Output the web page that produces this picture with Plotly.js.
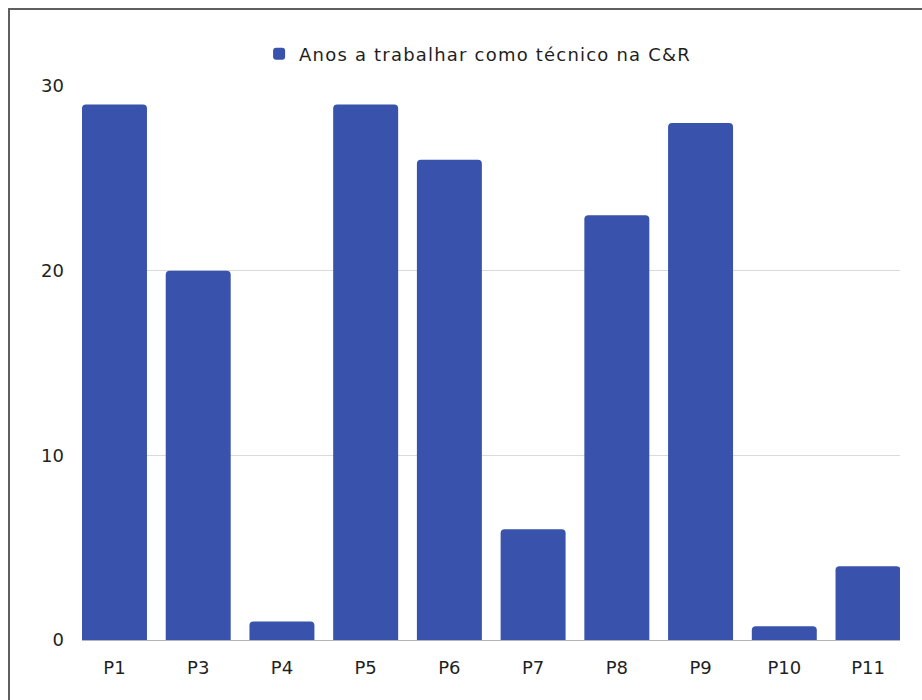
<!DOCTYPE html>
<html>
<head>
<meta charset="utf-8">
<script src="https://cdn.plot.ly/plotly-3.0.1.min.js"></script>
<style>
  html, body { margin: 0; padding: 0; background: #fff; overflow: hidden; }
  #chart { width: 922px; height: 700px; }
  #frame { position: absolute; left: 8px; top: 8px; width: 1000px; height: 1000px;
           border-left: 2px solid #5f5f5f; border-top: 2px solid #5f5f5f; pointer-events: none; }
  .legendtext { letter-spacing: 1.2px; }
</style>
</head>
<body>
<div id="chart"></div>
<div id="frame"></div>
<script>
const categories = ["P1", "P3", "P4", "P5", "P6", "P7", "P8", "P9", "P10", "P11"];
const anos = [29, 20, 1, 29, 26, 6, 23, 28, 0.75, 4];
const seriesName = "Anos a trabalhar como técnico na C&R";
const yTicks = [0, 10, 20, 30];

const FONT = "'DejaVu Sans', 'Noto Sans', sans-serif";

const trace = {
  type: "bar",
  x: categories,
  y: anos,
  name: seriesName,
  showlegend: true,
  marker: { color: "#3952ab", cornerradius: 4 },
  hoverinfo: "x+y"
};

const layout = {
  width: 922,
  height: 700,
  margin: { l: 82, r: 22, t: 86, b: 60 },
  paper_bgcolor: "#ffffff",
  plot_bgcolor: "#ffffff",
  bargap: 0.224,
  font: { family: FONT, size: 18, color: "#1f1f1f" },
  showlegend: true,
  legend: {
    orientation: "h",
    xref: "container", yref: "container",
    x: 0.518, xanchor: "center",
    y: 1 - 54 / 700, yanchor: "middle",
    font: { family: FONT, size: 18, color: "#1f1f1f" },
    itemwidth: 30
  },
  xaxis: {
    type: "category",
    range: [-0.388, 9.382],
    showgrid: false,
    showline: true,
    linecolor: "#b4b4b4",
    linewidth: 1,
    ticks: "",
    ticklabelstandoff: 11,
    tickfont: { family: FONT, size: 18, color: "#1f1f1f" },
    fixedrange: true
  },
  yaxis: {
    range: [0, 30],
    tickvals: yTicks,
    ticktext: yTicks.map(String),
    showgrid: true,
    gridcolor: "#dadada",
    gridwidth: 1,
    zeroline: false,
    showline: false,
    ticks: "",
    ticklabelstandoff: 17,
    tickfont: { family: FONT, size: 18, color: "#1f1f1f" },
    fixedrange: true
  }
};

Plotly.newPlot("chart", [trace], layout, { displayModeBar: false, staticPlot: true });
</script>
</body>
</html>
